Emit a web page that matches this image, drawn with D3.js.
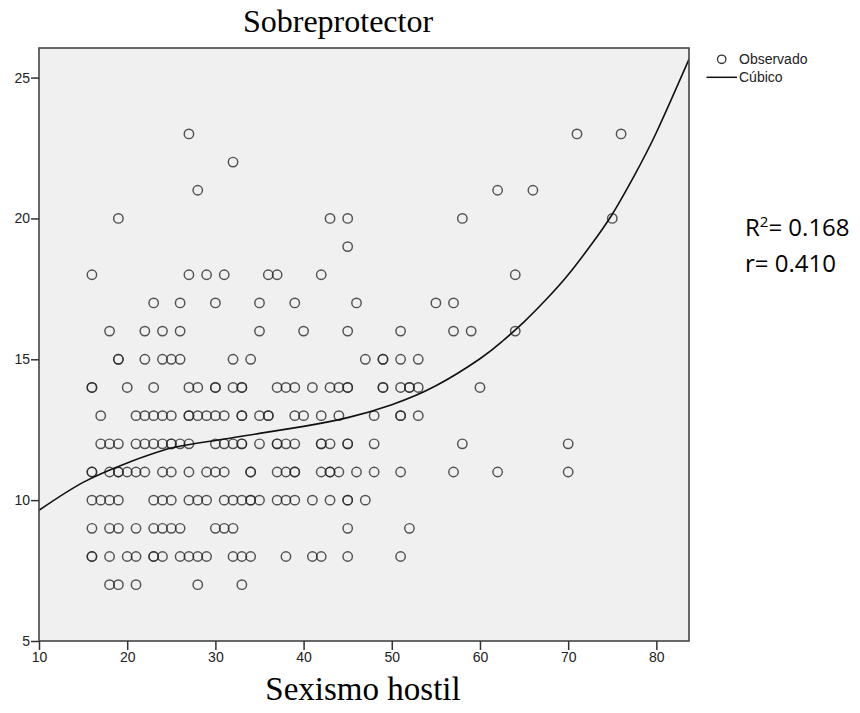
<!DOCTYPE html>
<html>
<head>
<meta charset="utf-8">
<script src="https://cdn.jsdelivr.net/npm/d3@7"></script>
<style>
  body { margin: 0; background: #fff; }
  .tick text { font-family: "Liberation Sans", Arial, sans-serif; font-size: 14px; fill: #222; }
  .tick line { stroke: #333; stroke-width: 1.5; }
</style>
</head>
<body>
<div id="chart"></div>
<script>
// Observado: for each Sobreprotector level, the Sexismo hostil scores seen at it
var levels = [23, 22, 21, 20, 19, 18, 17, 16, 15, 14, 13, 12, 11, 10, 9, 8, 7];
var xByLevel = [
  [27, 71, 76],
  [32],
  [28, 62, 66],
  [19, 43, 45, 58, 75],
  [45],
  [16, 27, 29, 31, 36, 37, 42, 64],
  [23, 26, 30, 35, 39, 46, 55, 57],
  [18, 22, 24, 26, 35, 40, 45, 51, 57, 59, 64],
  [19, 19, 22, 24, 25, 26, 32, 34, 47, 49, 49, 51, 53],
  [16, 16, 20, 23, 27, 28, 30, 30, 32, 33, 33, 37, 38, 39, 41, 43, 44, 45, 45, 49, 49, 51, 52, 52, 53, 60],
  [17, 21, 22, 23, 24, 25, 27, 27, 28, 29, 30, 31, 33, 33, 35, 36, 36, 39, 40, 42, 44, 48, 51, 51, 53],
  [17, 18, 19, 21, 22, 23, 24, 25, 25, 26, 27, 30, 31, 32, 33, 33, 35, 37, 37, 38, 39, 42, 42, 43, 45, 45, 48, 58, 70],
  [16, 16, 18, 19, 19, 20, 21, 22, 24, 25, 27, 29, 30, 31, 34, 34, 37, 38, 39, 39, 42, 43, 43, 44, 46, 48, 51, 57, 62, 70],
  [16, 17, 18, 19, 23, 24, 25, 27, 28, 29, 31, 32, 33, 34, 34, 35, 37, 38, 39, 41, 43, 45, 45, 47],
  [16, 18, 19, 21, 23, 24, 25, 26, 30, 31, 32, 45, 52],
  [16, 16, 18, 20, 21, 23, 23, 24, 26, 27, 28, 29, 32, 33, 34, 38, 41, 42, 45, 51],
  [18, 19, 21, 28, 33]
];

// Cúbico: fitted curve
var fitX = [10, 15, 20, 25, 30, 35, 40, 45, 50, 55, 60, 62.5, 65, 67.5, 70, 72.5, 75, 77.5, 80, 83.7];
var fitY = [9.64, 10.63, 11.32, 11.85, 12.12, 12.37, 12.62, 12.93, 13.39, 14.06, 15.02, 15.63, 16.33, 17.12, 18.0, 19.02, 20.15, 21.52, 23.05, 25.65];

var xTicks = [10, 20, 30, 40, 50, 60, 70, 80];
var yTicks = [5, 10, 15, 20, 25];

var svg = d3.select("#chart").append("svg")
  .attr("width", 860)
  .attr("height", 713);

var x = d3.scaleLinear().domain([10, 83.7]).range([39, 689]);
var y = d3.scaleLinear().domain([5, 26.05]).range([641, 48]);

// plot background
svg.append("rect")
  .attr("x", x.range()[0]).attr("y", y.range()[1])
  .attr("width", x.range()[1] - x.range()[0])
  .attr("height", y.range()[0] - y.range()[1])
  .attr("fill", "#f0f0f0");

svg.append("clipPath").attr("id", "plotClip")
  .append("rect")
  .attr("x", x.range()[0]).attr("y", y.range()[1])
  .attr("width", x.range()[1] - x.range()[0])
  .attr("height", y.range()[0] - y.range()[1]);

// points
var points = [];
levels.forEach(function(lv, i) {
  xByLevel[i].forEach(function(v) { points.push({x: v, y: lv}); });
});

svg.append("g")
  .selectAll("circle")
  .data(points)
  .enter()
  .append("circle")
    .attr("cx", function(d) { return x(d.x); })
    .attr("cy", function(d) { return y(d.y); })
    .attr("r", 4.7)
    .attr("fill", "none")
    .attr("stroke", "#2a2a2a")
    .attr("stroke-opacity", 0.8)
    .attr("stroke-width", 1.45);

// fitted curve
var line = d3.line()
  .x(function(d) { return x(d[0]); })
  .y(function(d) { return y(d[1]); })
  .curve(d3.curveNatural);

svg.append("path")
  .datum(d3.zip(fitX, fitY))
  .attr("clip-path", "url(#plotClip)")
  .attr("d", line)
  .attr("fill", "none")
  .attr("stroke", "#111")
  .attr("stroke-width", 1.6);

// frame
svg.append("rect")
  .attr("x", x.range()[0]).attr("y", y.range()[1])
  .attr("width", x.range()[1] - x.range()[0])
  .attr("height", y.range()[0] - y.range()[1])
  .attr("fill", "none")
  .attr("stroke", "#444")
  .attr("stroke-width", 1.6);

// axes
var xAxis = svg.append("g")
  .attr("transform", "translate(0," + y.range()[0] + ")")
  .call(d3.axisBottom(x).tickValues(xTicks).tickSize(9).tickPadding(2));
xAxis.select(".domain").remove();

var yAxis = svg.append("g")
  .attr("transform", "translate(" + x.range()[0] + ",0)")
  .call(d3.axisLeft(y).tickValues(yTicks).tickSize(8).tickPadding(1));
yAxis.select(".domain").remove();

// titles
svg.append("text")
  .attr("x", 338).attr("y", 32)
  .attr("text-anchor", "middle")
  .style("font-family", "'Liberation Serif', 'Times New Roman', serif")
  .style("font-size", "32px")
  .attr("fill", "#000")
  .text("Sobreprotector");

svg.append("text")
  .attr("x", 363).attr("y", 700)
  .attr("text-anchor", "middle")
  .style("font-family", "'Liberation Serif', 'Times New Roman', serif")
  .style("font-size", "33px")
  .attr("fill", "#000")
  .text("Sexismo hostil");

// legend
var legend = svg.append("g")
  .style("font-family", "'Liberation Sans', Arial, sans-serif")
  .style("font-size", "14px");

legend.append("circle")
  .attr("cx", 721.7).attr("cy", 59.3).attr("r", 4.2)
  .attr("fill", "none").attr("stroke", "#333").attr("stroke-width", 1.3);
legend.append("text").attr("x", 739).attr("y", 64).attr("fill", "#222").text("Observado");

legend.append("line")
  .attr("x1", 706.5).attr("x2", 737).attr("y1", 77.3).attr("y2", 77.3)
  .attr("stroke", "#111").attr("stroke-width", 1.5);
legend.append("text").attr("x", 739).attr("y", 82).attr("fill", "#222").text("Cúbico");

// fit statistics
var stats = svg.append("g")
  .style("font-family", "'Open Sans', 'Liberation Sans', sans-serif")
  .style("font-size", "24px")
  .attr("fill", "#000");

var r2 = stats.append("text").attr("x", 745).attr("y", 236);
r2.append("tspan").text("R");
r2.append("tspan").attr("dy", -9).style("font-size", "15px").text("2");
r2.append("tspan").attr("dy", 9).text("= 0.168");

stats.append("text").attr("x", 745).attr("y", 272).text("r= 0.410");
</script>
</body>
</html>
